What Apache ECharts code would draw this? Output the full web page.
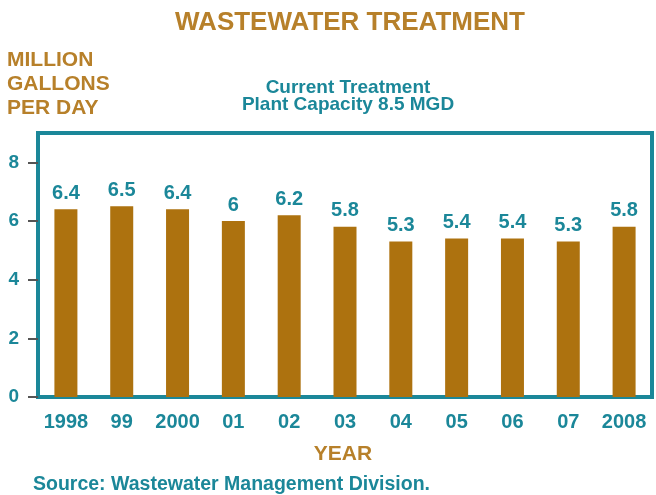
<!DOCTYPE html>
<html>
<head>
<meta charset="utf-8">
<title>Wastewater Treatment</title>
<script src="https://cdn.jsdelivr.net/npm/echarts@6/dist/echarts.min.js"></script>
<style>
  html, body { margin: 0; padding: 0; background: #fff; }
  #chart { width: 656px; height: 495px; }
</style>
</head>
<body>
<div id="chart"></div>
<script>
// daily flow, million gallons per day
var years = ['1998', '99', '2000', '01', '02', '03', '04', '05', '06', '07', '2008'];
var flow = [6.4, 6.5, 6.4, 6, 6.2, 5.8, 5.3, 5.4, 5.4, 5.3, 5.8];
var yTicks = [0, 2, 4, 6, 8];

var teal = '#1b8799';
var brown = '#b7802a';
var barColor = '#ad720f';
var font = '"Liberation Sans", Arial, Helvetica, sans-serif';

var chart = echarts.init(document.getElementById('chart'));
chart.setOption({
  animation: false,
  textStyle: { fontFamily: font },
  graphic: [
    { // main title
      type: 'text', x: 350, y: 23,
      style: { text: 'WASTEWATER TREATMENT', fill: brown, font: 'bold 26px ' + font,
               textAlign: 'center', textVerticalAlign: 'middle' }
    },
    { // units
      type: 'text', x: 7, y: 84,
      style: { text: 'MILLION\nGALLONS\nPER DAY', fill: brown, font: 'bold 21px ' + font,
               lineHeight: 24, textAlign: 'left', textVerticalAlign: 'middle' }
    },
    {
      type: 'text', x: 348, y: 96,
      style: { text: 'Current Treatment\nPlant Capacity 8.5 MGD', fill: teal, font: 'bold 19px ' + font,
               lineHeight: 17, textAlign: 'center', textVerticalAlign: 'middle' }
    },
    {
      type: 'text', x: 343, y: 454,
      style: { text: 'YEAR', fill: brown, font: 'bold 21px ' + font,
               textAlign: 'center', textVerticalAlign: 'middle' }
    },
    {
      type: 'text', x: 33, y: 485,
      style: { text: 'Source: Wastewater Management Division.', fill: teal, font: 'bold 19.5px ' + font,
               textAlign: 'left', textVerticalAlign: 'middle' }
    }
  ],
  grid: {
    left: 38, right: 4, top: 133, bottom: 98,
    show: true, borderColor: teal, borderWidth: 4, backgroundColor: 'transparent'
  },
  xAxis: {
    type: 'category',
    data: years,
    axisLine: { show: false },
    axisTick: { show: false },
    axisLabel: { color: teal, fontSize: 20, fontWeight: 'bold', margin: 15, interval: 0 }
  },
  yAxis: {
    type: 'value',
    min: 0, max: 9,
    splitLine: { show: false },
    axisLine: { show: false },
    axisTick: { show: true, length: 10, customValues: yTicks,
                lineStyle: { color: '#555', width: 2 } },
    axisLabel: { color: teal, fontSize: 19, fontWeight: 'bold', margin: 19, customValues: yTicks }
  },
  series: [{
    type: 'bar',
    data: flow,
    barWidth: 23,
    itemStyle: { color: barColor },
    label: {
      show: true, position: 'top', distance: 6,
      color: teal, fontSize: 20, fontWeight: 'bold'
    }
  }]
});
</script>
</body>
</html>
